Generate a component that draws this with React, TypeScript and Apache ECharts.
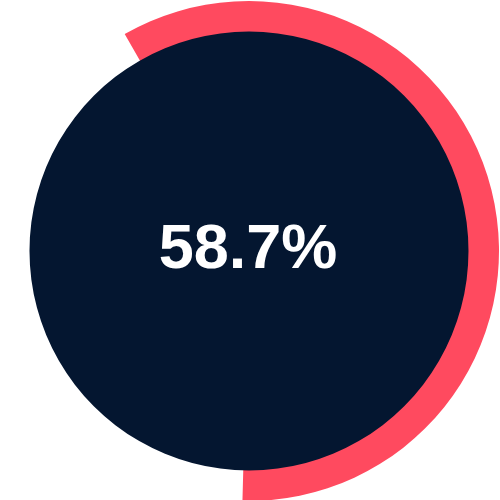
import React, { useEffect, useRef } from 'react';
import * as echarts from 'echarts';

const progressValues = [58.7, 41.3];
const progressNames = ['Done', 'Rest'];
const centerLabel = ['58.7%'];

const App: React.FC = () => {
    const chartRef = useRef<HTMLDivElement>(null);

    useEffect(() => {
        document.body.style.margin = '0';
        if (!chartRef.current) return;
        const chart = echarts.init(chartRef.current, undefined, { renderer: 'svg' });

        const option = {
            animation: false,
            series: [
                {
                    // red progress ring
                    type: 'pie',
                    center: [249, 251],
                    radius: [218, 250],
                    startAngle: -91.5,
                    clockwise: false,
                    silent: true,
                    label: { show: false },
                    labelLine: { show: false },
                    data: progressValues.map((v, i) => ({
                        name: progressNames[i],
                        value: v,
                        itemStyle: { color: i === 0 ? '#ff4a5f' : 'transparent' },
                    })),
                },
                {
                    // dark inner disc with the number
                    type: 'pie',
                    center: [249, 251],
                    radius: [0, 219.5],
                    silent: true,
                    labelLine: { show: false },
                    label: {
                        show: true,
                        position: 'center',
                        formatter: centerLabel[0],
                        color: '#ffffff',
                        fontFamily: 'Liberation Sans',
                        fontWeight: 'bold',
                        fontSize: 63,
                        offset: [-1, -5],
                    },
                    data: [{ name: 'value', value: 1, itemStyle: { color: '#041630' } }],
                },
            ],
        };

        chart.setOption(option);

        return () => {
            chart.dispose();
        };
    }, []);

    return <div ref={chartRef} style={{ width: 500, height: 500 }} />;
};

export default App;
